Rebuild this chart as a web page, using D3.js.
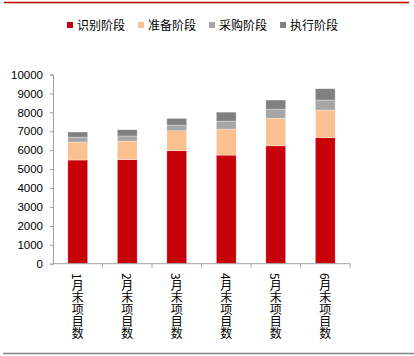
<!DOCTYPE html>
<html><head><meta charset="utf-8">
<script src="https://cdn.jsdelivr.net/npm/d3@7/dist/d3.min.js"></script>
<style>
html,body{margin:0;padding:0;background:#fff;}
svg{display:block;}
</style></head>
<body>
<script>
const categories = ["1月末项目数","2月末项目数","3月末项目数","4月末项目数","5月末项目数","6月末项目数"];
const seriesNames = ["识别阶段","准备阶段","采购阶段","执行阶段"];
const identify = [5480, 5500, 5970, 5740, 6230, 6660];
const prepare  = [950, 980, 1055, 1375, 1450, 1460];
const procure  = [260, 270, 300, 420, 490, 530];
const execute  = [270, 330, 355, 475, 480, 600];
const yTicks = [0,1000,2000,3000,4000,5000,6000,7000,8000,9000,10000];
const colors = ["#C8000A","#FAC090","#A6A6A6","#808080"];

const W = 414, H = 356;
const svg = d3.select("body").append("svg").attr("width", W).attr("height", H);

// frame lines
svg.append("line").attr("x1",4).attr("x2",409).attr("y1",2.5).attr("y2",2.5)
  .attr("stroke","#C00000").attr("stroke-width",1.5);
svg.append("line").attr("x1",3).attr("x2",414).attr("y1",353.5).attr("y2",353.5)
  .attr("stroke","#808080").attr("stroke-width",1.5);

const x0 = 53, x1 = 350, y0 = 263.7, yTop = 74.5;
const x = d3.scaleBand().domain(categories).range([x0, x1]).paddingInner(0.6).paddingOuter(0.3);
const y = d3.scaleLinear().domain([0, 10000]).range([y0, yTop]);

const rows = categories.map((c,i)=>({cat:c, 识别阶段:identify[i], 准备阶段:prepare[i], 采购阶段:procure[i], 执行阶段:execute[i]}));
const stacked = d3.stack().keys(seriesNames)(rows);

const g = svg.append("g");
g.selectAll("g.s").data(stacked).enter().append("g")
  .attr("fill",(d,i)=>colors[i])
  .selectAll("rect").data(d=>d).enter().append("rect")
  .attr("x", d=>x(d.data.cat))
  .attr("width", x.bandwidth())
  .attr("y", d=>y(d[1]))
  .attr("height", d=>y(d[0])-y(d[1]))
  .attr("stroke","#ffffff").attr("stroke-opacity",0.5).attr("stroke-width",0.6);

// y axis
const yAxis = d3.axisLeft(y).tickValues(yTicks).tickSize(3).tickPadding(7).tickFormat(d3.format("d"));
const ya = svg.append("g").attr("transform",`translate(${x0},0)`).call(yAxis);
ya.select(".domain").attr("stroke","#A0A0A0");
ya.selectAll(".tick line").attr("stroke","#A0A0A0");
ya.selectAll(".tick text").attr("font-family","Liberation Sans, Arial, sans-serif").attr("font-size",11.5).attr("fill","#000");

// x axis
const step = (x1 - x0)/categories.length;
const xa = svg.append("g");
xa.append("line").attr("x1",x0).attr("x2",x1).attr("y1",y0).attr("y2",y0).attr("stroke","#A0A0A0");
xa.selectAll("line.t").data(d3.range(1, categories.length+1)).enter().append("line")
  .attr("x1",i=>x0+i*step).attr("x2",i=>x0+i*step).attr("y1",y0).attr("y2",y0+4).attr("stroke","#A0A0A0");
xa.selectAll("text").data(categories).enter().append("text")
  .attr("x", d=>x(d)+x.bandwidth()/2)
  .attr("y", 273)
  .style("writing-mode","vertical-rl")
  .attr("font-family","Noto Sans CJK SC, sans-serif").attr("font-size",12)
  .attr("fill","#000")
  .text(d=>d);

// legend
const legX = [67, 138, 209, 280];
const lg = svg.append("g");
seriesNames.forEach((n,i)=>{
  lg.append("rect").attr("x",legX[i]).attr("y",22).attr("width",6).attr("height",6).attr("fill",colors[i]);
  lg.append("text").attr("x",legX[i]+10).attr("y",29.5)
    .attr("font-family","Noto Sans CJK SC, sans-serif").attr("font-size",12).attr("fill","#000").text(n);
});
</script>
</body></html>
